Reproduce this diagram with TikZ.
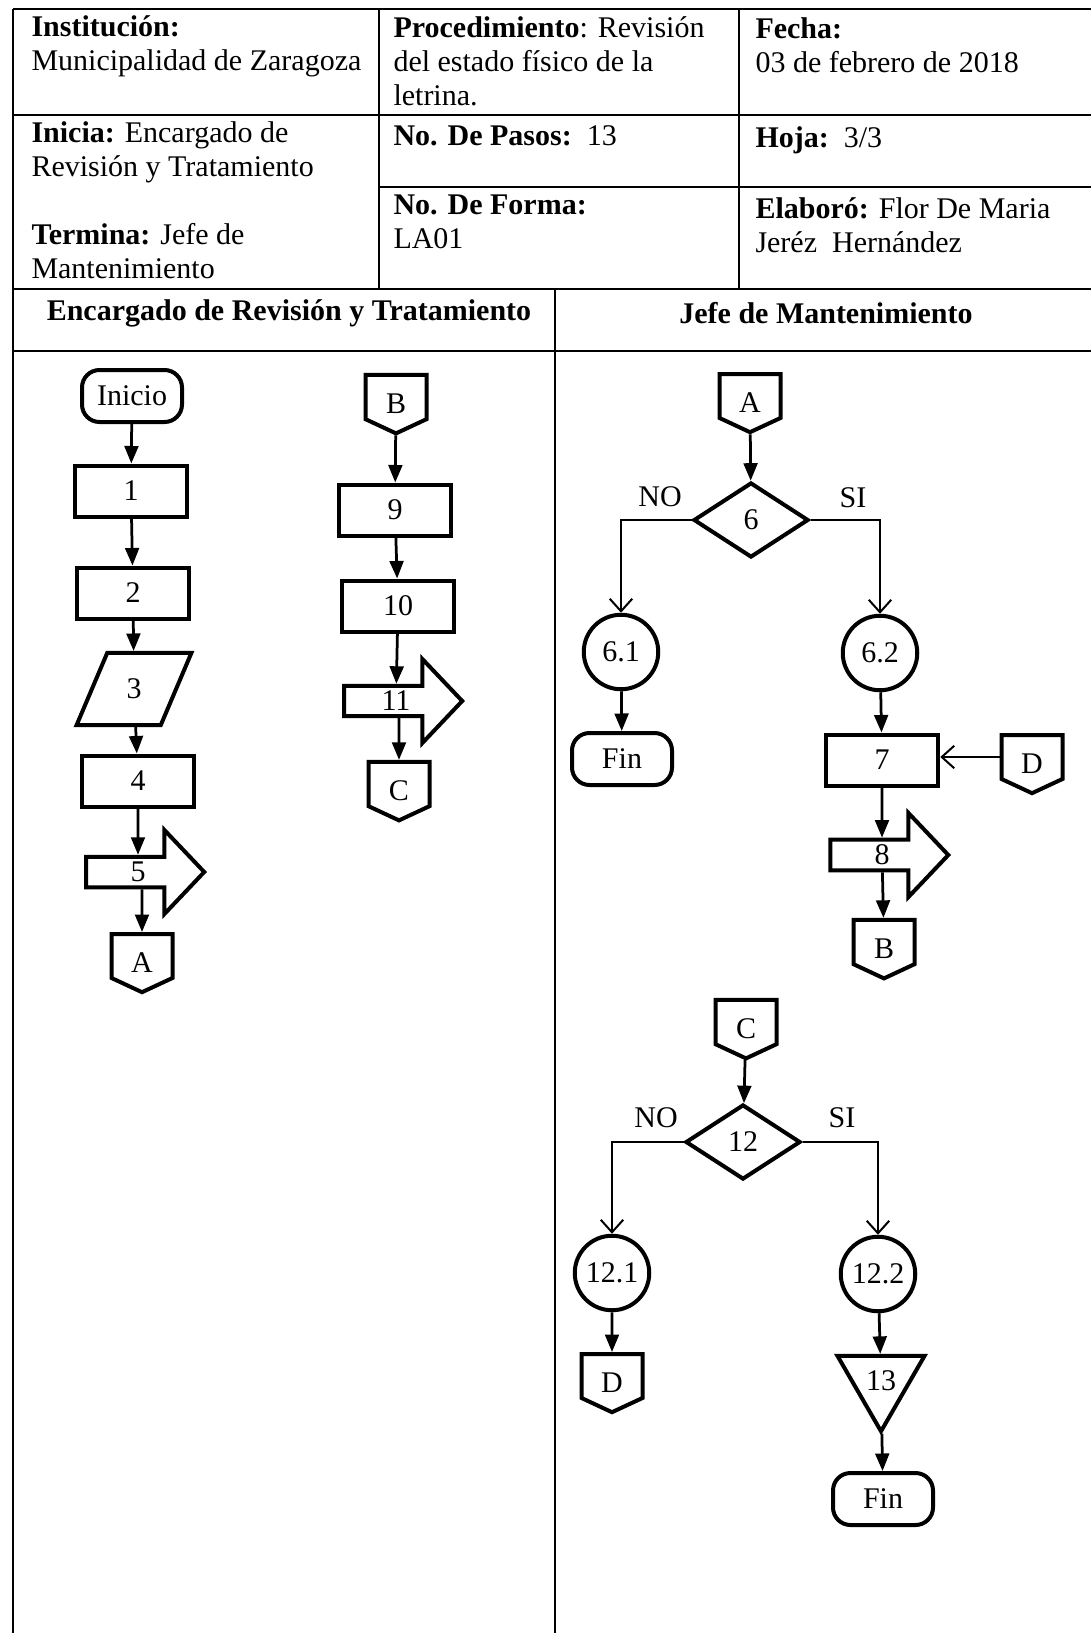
\documentclass[tikz,border=0pt]{standalone}
\usepackage{fontspec}
\setmainfont{Liberation Serif}
\usetikzlibrary{arrows.meta, positioning, shapes.geometric, shapes.symbols, shapes.arrows}

\begin{document}
\begin{tikzpicture}[
  x=0.4pt, y=-0.4pt,
  font=\fontsize{12pt}{13.6pt}\selectfont,
  shapebox/.style={draw, line width=1.6pt, inner sep=0pt},
  proc/.style={shapebox, rectangle, minimum width=45pt, minimum height=20.4pt},
  term/.style={shapebox, rectangle, rounded corners=7pt, minimum width=40pt, minimum height=20.8pt},
  io/.style={shapebox, trapezium, trapezium left angle=67, trapezium right angle=113, minimum width=46pt, minimum height=20.2pt},
  offpage/.style={shapebox, signal, signal to=south, signal pointer angle=130, minimum width=24.4pt, minimum height=19.6pt, text height=13.3pt, text depth=0pt},
  move/.style={shapebox, single arrow, single arrow head extend=8.4pt, single arrow tip angle=93, minimum width=33.6pt, minimum height=47.2pt},
  decision/.style={shapebox, diamond, minimum width=46pt, minimum height=30pt},
  oval/.style={shapebox, circle, minimum size=29.8pt},
  store/.style={shapebox, regular polygon, regular polygon sides=3, shape border rotate=180, minimum size=40.2pt},
  arrow/.style={-{Triangle[length=7pt,width=5.5pt]}, line width=1.1pt},
  branch/.style={-{Straight Barb[length=5pt,width=9pt]}, line width=0.8pt},
  rule/.style={line width=0.8pt},
  cell/.style={anchor=base west, align=left, inner sep=0pt},
  lane/.style={anchor=base, font=\fontsize{12pt}{13.6pt}\selectfont\bfseries, inner sep=0pt},
  answer/.style={inner sep=0pt}
]
  \useasboundingbox (0,0) rectangle (1091,1633);

  % Table
  \draw[rule] (13,9) -- (1091,9);
  \draw[rule] (13,115) -- (1091,115);
  \draw[rule] (379,187) -- (1091,187);
  \draw[rule] (13,289) -- (1091,289);
  \draw[rule] (13,351) -- (1091,351);
  \draw[rule] (13,9) -- (13,1633);
  \draw[rule] (379,9) -- (379,289);
  \draw[rule] (739,9) -- (739,289);
  \draw[rule] (555,289) -- (555,1633);

  % Header cells (anchored at the last line)
  \node[cell] (inst) at (31,70) {\textbf{Institución:}\\Municipalidad de Zaragoza};
  \node[cell] (proced) at (393,105) {\textbf{Procedimiento}: Revisión\\del estado físico de la\\letrina.};
  \node[cell] (fecha) at (755,72) {\textbf{Fecha:}\\03 de febrero de 2018};
  \node[cell] (inicia) at (31,278) {\textbf{Inicia:} Encargado de\\Revisión y Tratamiento\\[13.6pt]\textbf{Termina:} Jefe de\\Mantenimiento};
  \node[cell] (pasos) at (393,145) {\textbf{No. De Pasos:}\ \ 13};
  \node[cell] (hoja) at (755,147) {\textbf{Hoja:}\ \ 3/3};
  \node[cell] (forma) at (393,248) {\textbf{No. De Forma:}\\LA01};
  \node[cell] (elab) at (755,252) {\textbf{Elaboró:} Flor De Maria\\Jeréz\ \ Hernández};

  % Lanes
  \node[lane] (lane1) at (289,320) {Encargado de Revisión y Tratamiento};
  \node[lane] (lane2) at (826,323) {Jefe de Mantenimiento};

  % Encargado de Revision y Tratamiento
  \node[term] (inicio) at (132,396) {Inicio};
  \node[proc] (p1) at (131,491) {1};
  \node[proc] (p2) at (133,593) {2};
  \node[io] (p3) at (134,689) {3};
  \node[proc] (p4) at (138,781) {4};
  \node[move] (p5) at (138,872) {5};
  \node[offpage] (offA) at (142,956) {A};

  \node[offpage] (offB) at (396,397) {B};
  \node[proc] (p9) at (395,510) {9};
  \node[proc] (p10) at (398,606) {10};
  \node[move] (p11) at (396,701) {11};
  \node[offpage] (offC) at (399,784) {C};

  \draw[arrow] (inicio) -- (p1);
  \draw[arrow] (p1) -- (p2);
  \draw[arrow] (p2) -- (p3);
  \draw[arrow] (p3) -- (p4);
  \draw[arrow] (p4) -- (p5);
  \draw[arrow] (offA |- p5.south) -- (offA);
  \draw[arrow] (offB) -- (p9);
  \draw[arrow] (p9) -- (p10);
  \draw[arrow] (p10) -- (p11);
  \draw[arrow] (offC |- p11.south) -- (offC);

  % Jefe de Mantenimiento
  \node[offpage] (offA2) at (750,396) {A};
  \node[decision] (d6) at (751,520) {6};
  \node[answer] (no6) at (660,497) {NO};
  \node[answer] (si6) at (853,498) {SI};
  \node[oval] (s61) at (621,652) {6.1};
  \node[oval] (s62) at (880,653) {6.2};
  \node[term] (fin1) at (622,759) {Fin};
  \node[proc] (p7) at (882,760) {7};
  \node[offpage] (offD) at (1032,757) {D};
  \node[move] (p8) at (882,855) {8};
  \node[offpage] (offB2) at (884,942) {B};

  \draw[arrow] (offA2) -- (d6);
  \draw[branch] (d6.west) -| (s61);
  \draw[branch] (d6.east) -| (s62);
  \draw[arrow] (s61) -- (fin1);
  \draw[arrow] (s62) -- (p7);
  \draw[branch] (offD.west) -- (offD.west -| p7.east);
  \draw[arrow] (p7) -- (p8);
  \draw[arrow] (p8) -- (offB2);

  \node[offpage] (offC2) at (746,1022) {C};
  \node[decision] (d12) at (743,1142) {12};
  \node[answer] (no12) at (656,1118) {NO};
  \node[answer] (si12) at (842,1118) {SI};
  \node[oval] (s121) at (612,1273) {12.1};
  \node[oval] (s122) at (878,1274) {12.2};
  \node[offpage] (offD2) at (612,1376) {D};
  \node[store] (p13) at (881,1381) {13};
  \node[term] (fin2) at (883,1499) {Fin};

  \draw[arrow] (offC2) -- (d12);
  \draw[branch] (d12.west) -| (s121);
  \draw[branch] (d12.east) -| (s122);
  \draw[arrow] (s121) -- (offD2);
  \draw[arrow] (s122) -- (p13);
  \draw[arrow] (p13) -- (fin2);
\end{tikzpicture}
\end{document}
